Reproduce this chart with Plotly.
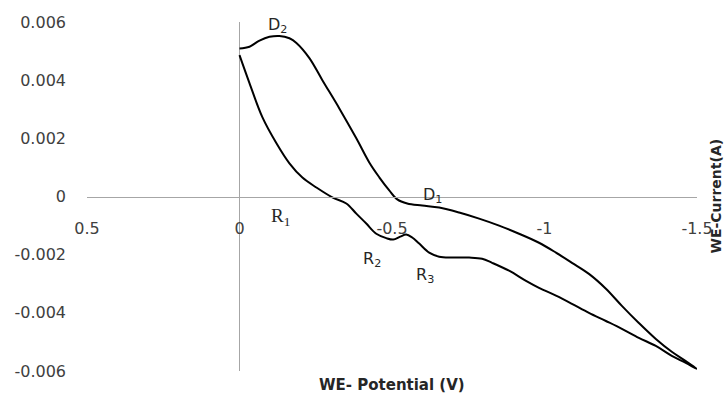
import plotly.graph_objects as go

# Cathodic (forward) scan: 0 V -> -1.5 V
fwd_potential = [0.0, -0.0327, -0.0753, -0.1211, -0.1637, -0.2062, -0.2520, -0.3044, -0.3502, -0.3830,
                 -0.4157, -0.4484, -0.4812, -0.5041, -0.5270, -0.5466, -0.5663, -0.5892, -0.6219,
                 -0.6547, -0.6972, -0.7529, -0.7954, -0.8282, -0.8838, -0.9394, -0.9820, -1.0376,
                 -1.0900, -1.1457, -1.2013, -1.2537, -1.3093, -1.3650, -1.4173, -1.4632, -1.5]
fwd_current = [0.00486, 0.00390, 0.00272, 0.00183, 0.00114, 0.00065, 0.00031, -0.00003, -0.00024, -0.00059,
               -0.00093, -0.00128, -0.00143, -0.00148, -0.00138, -0.00131, -0.00141, -0.00162, -0.00193,
               -0.00207, -0.00210, -0.00210, -0.00214, -0.00228, -0.00255, -0.00290, -0.00314, -0.00341,
               -0.00369, -0.00400, -0.00428, -0.00455, -0.00486, -0.00514, -0.00548, -0.00572, -0.00593]

# Anodic (reverse) scan: -1.5 V -> 0 V
rev_potential = [-1.5, -1.4632, -1.4173, -1.3650, -1.3093, -1.2537, -1.2013, -1.1457, -1.0900, -1.0376,
                 -0.9820, -0.9165, -0.8511, -0.7856, -0.7201, -0.6547, -0.5990, -0.5499, -0.5172,
                 -0.4910, -0.4583, -0.4255, -0.3830, -0.3273, -0.2717, -0.2291, -0.1866, -0.1637,
                 -0.1309, -0.0982, -0.0655, -0.0327, 0.0]
rev_current = [-0.00593, -0.00566, -0.00534, -0.00490, -0.00435, -0.00376, -0.00317, -0.00266, -0.00228,
               -0.00193, -0.00159, -0.00128, -0.00100, -0.00076, -0.00055, -0.00038, -0.00031, -0.00024,
               -0.00010, 0.00021, 0.00066, 0.00117, 0.00200, 0.00303, 0.00400, 0.00476, 0.00528, 0.00544,
               0.00552, 0.00549, 0.00536, 0.00515, 0.00509]

x_ticks = [0.5, 0, -0.5, -1, -1.5]
x_tick_labels = ["0.5", "0", "-0.5", "-1", "-1.5"]
y_ticks = [0.006, 0.004, 0.002, 0, -0.002, -0.004, -0.006]
y_tick_labels = ["0.006", "0.004", "0.002", "0", "-0.002", "-0.004", "-0.006"]

peak_labels = ["D<sub>2</sub>", "D<sub>1</sub>", "R<sub>1</sub>", "R<sub>2</sub>", "R<sub>3</sub>"]
peak_x = [-0.124, -0.633, -0.134, -0.434, -0.607]
peak_y = [0.00587, 0.00003, -0.00072, -0.00218, -0.00273]
peak_fonts = ["DejaVu Sans", "DejaVu Sans", "Liberation Serif", "DejaVu Sans", "DejaVu Sans"]
peak_sizes = [16, 16, 19, 16, 16]

x_title = "WE- Potential (V)"
y_title = "WE-Current(A)"

fig = go.Figure()
fig.add_trace(go.Scatter(
    x=fwd_potential + rev_potential[1:],
    y=fwd_current + rev_current[1:],
    mode="lines",
    line=dict(color="black", width=2, shape="spline", smoothing=1.0),
    showlegend=False,
    hoverinfo="skip",
))

tick_font = dict(family="DejaVu Sans", size=16, color="#404040")

fig.update_layout(
    width=725, height=394,
    margin=dict(l=87, r=25, t=22, b=23),
    paper_bgcolor="white",
    plot_bgcolor="white",
    showlegend=False,
    xaxis=dict(
        range=[0.5, -1.5],
        tickvals=x_ticks, ticktext=x_tick_labels,
        tickfont=tick_font,
        showgrid=False,
        zeroline=True, zerolinecolor="#a6a6a6", zerolinewidth=1,
        showline=True, linecolor="#a6a6a6", linewidth=1,
        anchor="free", position=0.5,
        ticks="", ticklabelstandoff=17,
    ),
    yaxis=dict(
        range=[-0.006, 0.006],
        tickvals=y_ticks, ticktext=y_tick_labels,
        tickfont=tick_font,
        showgrid=False, zeroline=False, showline=False,
        ticks="", ticklabelstandoff=20,
    ),
)

for t, x, y, f, s in zip(peak_labels, peak_x, peak_y, peak_fonts, peak_sizes):
    fig.add_annotation(x=x, y=y, xref="x", yref="y", text=t, showarrow=False,
                       font=dict(family=f, size=s, color="#262626"))

fig.add_annotation(x=0.5, y=0, xref="paper", yref="paper", yanchor="middle", yshift=-14,
                   text="<b>" + x_title + "</b>", showarrow=False,
                   font=dict(family="DejaVu Sans", size=15, color="#262626"))
fig.add_annotation(x=1, y=0.5, xref="paper", yref="paper", xanchor="center", xshift=18,
                   textangle=-90, text="<b>" + y_title + "</b>", showarrow=False,
                   font=dict(family="DejaVu Sans", size=14, color="#262626"))

fig.write_html("out.html")
